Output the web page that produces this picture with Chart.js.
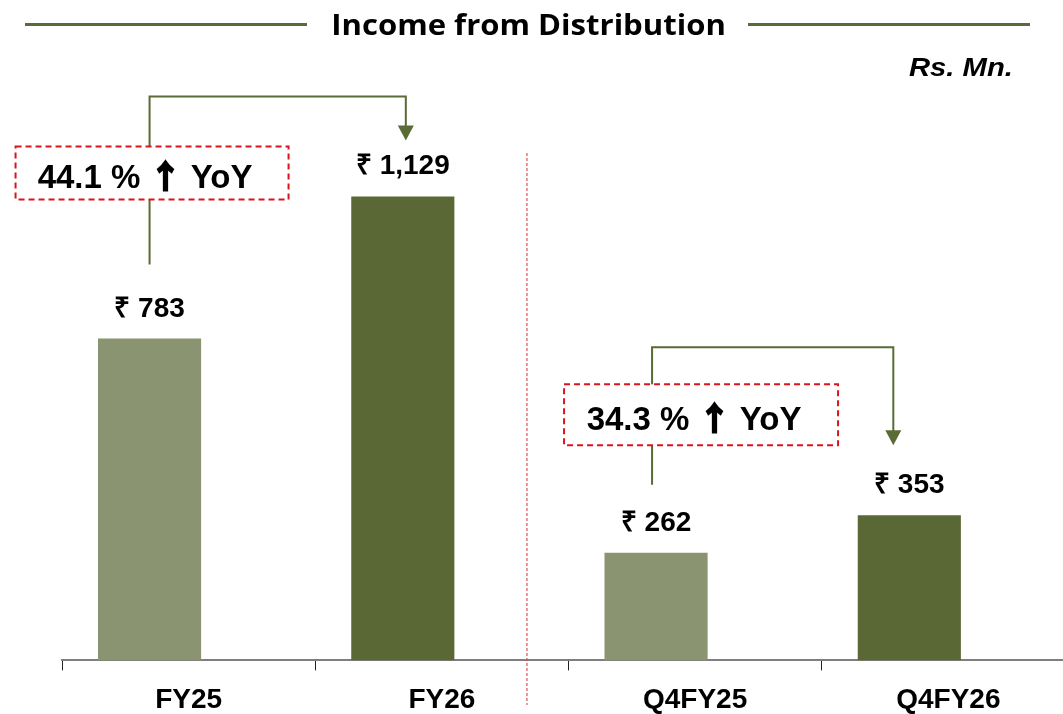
<!DOCTYPE html>
<html lang="en">
<head>
<meta charset="UTF-8">
<title>Income from Distribution</title>
<script src="https://cdn.jsdelivr.net/npm/chart.js"></script>
<style>
  html, body { margin: 0; padding: 0; background: #fff; overflow: hidden; }
  #wrap { position: relative; width: 1063px; height: 714px; overflow: hidden; }
  #chart { position: absolute; left: 0; top: 0; }
  .rule { position: absolute; top: 23px; height: 3px; background: #5a6b35; }
  #title { position: absolute; left: 0; top: 5px; width: 1057px; text-align: center;
           font: bold 28px 'Open Sans'; line-height: 38px; color: #000;
           transform: scaleX(1.11); transform-origin: 528px center; }
  #unit { position: absolute; right: 50px; top: 52px; font: italic bold 25px 'Liberation Sans';
          line-height: 30px; color: #000; transform: scaleX(1.17); transform-origin: right center; }
</style>
</head>
<body>
<div id="wrap">
  <canvas id="chart" width="1075" height="714"></canvas>
  <div class="rule" style="left:25px; width:282px;"></div>
  <div class="rule" style="left:748px; width:282px;"></div>
  <div id="title">Income from Distribution</div>
  <div id="unit">Rs. Mn.</div>
</div>
<script>
    const categories = ['FY25', 'FY26', 'Q4FY25', 'Q4FY26'];
    const values = [783, 1129, 262, 353];
    const barColors = ['#8a9471', '#596835', '#8a9471', '#596835'];
    const growthPct = ['44.1 %', '34.3 %'];

    const olive = '#5a6b35';
    const boxRed = '#d9141b';

    // connector + dashed box for each YoY comparison (offsets in px from the bars)
    const growthLayout = [
        { from: 0, to: 1, startDy: -74, topDy: -100, endDx: 3, tipDy: -56, startDx: 0,
          box: { dx: 2.5, cyFromTo: -23.5, w: 273, h: 53 } },
        { from: 2, to: 3, startDy: -68, topDy: -168, endDx: -16, tipDy: -70, startDx: -4,
          box: { dx: 45, cyFromTo: -100.5, w: 274, h: 61 } }
    ];

    function drawGrowthText(ctx, pct, cx, cy) {
        const mainFont = 'bold 33px "Liberation Sans"';
        const arrowFont = 'bold 32px "Noto Sans CJK SC"';
        const parts = [[pct + ' ', mainFont, false], ['\u2191', arrowFont, true], [' YoY', mainFont, false]];
        let total = 0;
        parts.forEach(p => { ctx.font = p[1]; total += ctx.measureText(p[0]).width; });
        let x = cx - total / 2;
        ctx.textAlign = 'left';
        ctx.textBaseline = 'alphabetic';
        ctx.strokeStyle = '#000';
        ctx.lineWidth = 2;
        parts.forEach(p => {
            ctx.font = p[1];
            ctx.fillText(p[0], x, cy + 12);
            if (p[2]) ctx.strokeText(p[0], x, cy + 12);
            x += ctx.measureText(p[0]).width;
        });
    }

    const overlay = {
        id: 'overlay',
        afterDatasetsDraw(chart) {
            const ctx = chart.ctx;
            const bars = chart.getDatasetMeta(0).data;

            // separator between annual and quarterly
            ctx.save();
            ctx.strokeStyle = 'rgba(222,70,70,0.75)';
            ctx.lineWidth = 1.5;
            ctx.setLineDash([3, 2]);
            const sx = (bars[1].x + bars[2].x) / 2 - 2.5;
            ctx.beginPath();
            ctx.moveTo(sx, 153);
            ctx.lineTo(sx, 705);
            ctx.stroke();
            ctx.restore();

            // value labels
            ctx.save();
            ctx.fillStyle = '#000';
            ctx.font = 'bold 28px "Liberation Sans"';
            ctx.textAlign = 'center';
            ctx.textBaseline = 'alphabetic';
            bars.forEach((b, i) => {
                ctx.fillText('\u20B9 ' + values[i].toLocaleString('en-IN'), b.x, b.y - 22);
            });
            ctx.restore();

            // YoY connectors
            growthLayout.forEach((g, k) => {
                const a = bars[g.from], b = bars[g.to];
                const x0 = a.x + g.startDx, y0 = a.y + g.startDy;
                const yTop = b.y + g.topDy;
                const x1 = b.x + g.endDx, tip = b.y + g.tipDy;
                ctx.save();
                ctx.strokeStyle = olive;
                ctx.lineWidth = 2;
                ctx.beginPath();
                ctx.moveTo(x0, y0);
                ctx.lineTo(x0, yTop);
                ctx.lineTo(x1, yTop);
                ctx.lineTo(x1, tip - 14);
                ctx.stroke();
                ctx.fillStyle = olive;
                ctx.beginPath();
                ctx.moveTo(x1 - 8, tip - 15);
                ctx.lineTo(x1 + 8, tip - 15);
                ctx.lineTo(x1, tip);
                ctx.closePath();
                ctx.fill();

                const cx = a.x + g.box.dx, cy = b.y + g.box.cyFromTo;
                const bx = cx - g.box.w / 2, by = cy - g.box.h / 2;
                ctx.fillStyle = '#fff';
                ctx.fillRect(bx, by, g.box.w, g.box.h);
                ctx.strokeStyle = boxRed;
                ctx.lineWidth = 2;
                ctx.setLineDash([6, 4]);
                ctx.strokeRect(bx, by, g.box.w, g.box.h);
                ctx.setLineDash([]);
                ctx.fillStyle = '#000';
                drawGrowthText(ctx, growthPct[k], cx - 7, cy + 3);
                ctx.restore();
            });
        }
    };

    const ctx = document.getElementById('chart').getContext('2d');
    new Chart(ctx, {
        type: 'bar',
        data: {
            labels: categories,
            datasets: [{
                data: values,
                backgroundColor: barColors,
                categoryPercentage: 0.617,
                barPercentage: 1.32
            }, {
                data: categories.map(() => null),
                categoryPercentage: 0.617,
                barPercentage: 1.32
            }]
        },
        options: {
            responsive: false,
            animation: false,
            layout: { padding: { top: 85, left: 62, right: 0, bottom: -16 } },
            plugins: { legend: { display: false }, tooltip: { enabled: false } },
            scales: {
                x: {
                    grid: { drawOnChartArea: false, tickLength: 10, tickColor: '#222', tickWidth: 1 },
                    border: { color: '#7f7f7f', width: 2 },
                    ticks: {
                        color: '#000',
                        padding: 13,
                        font: { family: 'Liberation Sans', size: 28, weight: 'bold' }
                    }
                },
                y: { display: false, min: 0, max: 1400 }
            }
        },
        plugins: [overlay]
    });
</script>
</body>
</html>
